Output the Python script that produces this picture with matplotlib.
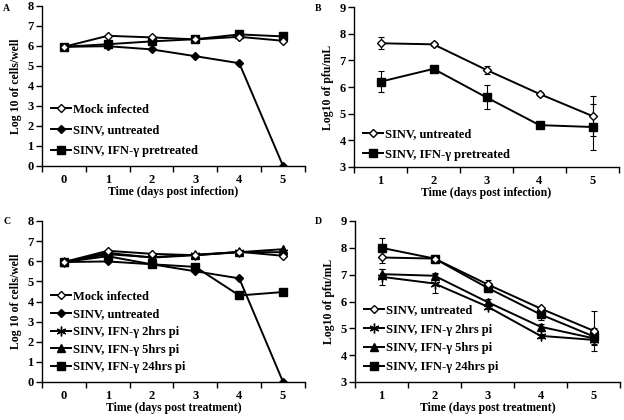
import matplotlib
matplotlib.use("Agg")
import matplotlib.pyplot as plt

plt.rcParams['font.family'] = ['Liberation Serif', 'DejaVu Serif']
plt.rcParams['font.weight'] = 'bold'

# Panel A / C : cell counts
days_cells = [0, 1, 2, 3, 4, 5]
a_mock = [5.96, 6.51, 6.43, 6.33, 6.46, 6.26]
a_untreated = [5.96, 5.99, 5.83, 5.49, 5.14, 0.0]
a_pretreated = [5.96, 6.09, 6.23, 6.34, 6.58, 6.48]

c_mock = [5.96, 6.52, 6.37, 6.30, 6.47, 6.27]
c_untreated = [5.96, 5.99, 5.85, 5.50, 5.15, 0.0]
c_2hrs = [5.96, 6.35, 6.20, 6.33, 6.45, 6.45]
c_5hrs = [5.96, 6.42, 6.18, 6.30, 6.45, 6.60]
c_24hrs = [5.96, 6.25, 5.85, 5.72, 4.30, 4.47]

# Panel B / D : virus titres
days_virus = [1, 2, 3, 4, 5]
b_untreated = [7.64, 7.60, 6.64, 5.74, 4.91]
b_untreated_err = [0.22, 0.07, 0.15, 0.07, 0.75]
b_pretreated = [6.20, 6.68, 5.61, 4.57, 4.50]
b_pretreated_err = [0.40, 0.05, 0.45, 0.05, 0.85]

d_untreated = [7.64, 7.60, 6.64, 5.74, 4.91]
d_untreated_err = [0.22, 0.07, 0.15, 0.07, 0.75]
d_2hrs = [6.92, 6.67, 5.81, 4.72, 4.57]
d_2hrs_err = [0.30, 0.35, 0.10, 0.08, 0.20]
d_5hrs = [7.02, 6.96, 5.98, 5.06, 4.63]
d_5hrs_err = [0.20, 0.10, 0.10, 0.10, 0.15]
d_24hrs = [8.00, 7.60, 6.51, 5.52, 4.70]
d_24hrs_err = [0.35, 0.15, 0.15, 0.20, 0.30]

lbl_mock = "Mock infected"
lbl_untr = "SINV, untreated"
lbl_pre = "SINV, IFN-\u03b3 pretreated"
lbl_2 = "SINV, IFN-\u03b3 2hrs pi"
lbl_5 = "SINV, IFN-\u03b3 5hrs pi"
lbl_24 = "SINV, IFN-\u03b3 24hrs pi"

W, H = 624, 420
fig = plt.figure(figsize=(W / 100, H / 100), dpi=100)

def rect(l, t, r, b):
    return [l / W, 1 - b / H, (r - l) / W, (b - t) / H]

axA = fig.add_axes(rect(42, 6, 305, 166))
axB = fig.add_axes(rect(354, 7, 619, 167))
axC = fig.add_axes(rect(42, 221, 305, 382))
axD = fig.add_axes(rect(355, 221, 620, 382))

lw = 1.4
sty_mock = dict(marker='D', ms=4.5, mfc='white', mec='black', mew=1.0, color='black', lw=lw)
sty_untr = dict(marker='D', ms=4.5, mfc='black', mec='black', color='black', lw=lw)
sty_sq = dict(marker='s', ms=6, mfc='black', mec='black', color='black', lw=lw)
sty_ast = dict(marker=(6, 2, 0), ms=7, mec='black', mew=1.0, color='black', lw=lw)
sty_tri = dict(marker='^', ms=5.5, mfc='black', mec='black', color='black', lw=lw)

fs_tick = 9
fs_lab = 8.5
fs_leg = 9

def style_axis(ax, xlo, xhi, ylo, yhi, xt, xlabel, ylabel):
    ax.set_xlim(xlo, xhi)
    ax.set_ylim(ylo, yhi)
    for s in ['top', 'right']:
        ax.spines[s].set_visible(False)
    for s in ['left', 'bottom']:
        ax.spines[s].set_linewidth(1.0)
    ax.set_xticks(xt)
    ax.set_xticks([x + 0.5 for x in [xt[0] - 1] + list(xt)], minor=True)
    ax.tick_params(axis='x', which='major', length=0, labelsize=fs_tick, pad=6)
    ax.tick_params(axis='x', which='minor', length=4, direction='out', width=1)
    ax.tick_params(axis='y', length=4, direction='out', width=1, labelsize=fs_tick, pad=2)
    ax.set_yticks(range(ylo, yhi + 1))
    ax.set_xlabel(xlabel, fontsize=fs_lab, fontweight='bold', labelpad=0)
    ax.set_ylabel(ylabel, fontsize=fs_lab, fontweight='bold', labelpad=4)
    for t in ax.get_xticklabels() + ax.get_yticklabels():
        t.set_fontweight('bold')

leg_kw = dict(loc='lower left', frameon=False, fontsize=fs_leg,
              handlelength=1.6, handletextpad=0.2, borderaxespad=0.3)

# Panel A
axA.plot(days_cells, a_mock, label=lbl_mock, zorder=3, **sty_mock)
axA.plot(days_cells, a_untreated, label=lbl_untr, zorder=2, **sty_untr)
axA.plot(days_cells, a_pretreated, label=lbl_pre, zorder=2, **sty_sq)
style_axis(axA, -0.5, 5.5, 0, 8, days_cells, "Time (days post infection)", "Log 10 of cells/well")
axA.legend(bbox_to_anchor=(0.0, 0.0), labelspacing=0.7, **leg_kw)

# Panel B
eb = dict(fmt='none', capsize=2, elinewidth=0.8, capthick=0.8, ecolor='black', zorder=1)
axB.errorbar(days_virus, b_untreated, yerr=b_untreated_err, **eb)
axB.errorbar(days_virus, b_pretreated, yerr=b_pretreated_err, **eb)
axB.plot(days_virus, b_untreated, label=lbl_untr, zorder=3, **sty_mock)
axB.plot(days_virus, b_pretreated, label=lbl_pre, zorder=2, **sty_sq)
style_axis(axB, 0.5, 5.5, 3, 9, days_virus, "Time (days post infection)", "Log10 of pfu/mL")
axB.legend(bbox_to_anchor=(0.0, -0.015), labelspacing=0.7, **leg_kw)

# Panel C
axC.plot(days_cells, c_mock, label=lbl_mock, zorder=3, **sty_mock)
axC.plot(days_cells, c_untreated, label=lbl_untr, zorder=2, **sty_untr)
axC.plot(days_cells, c_2hrs, label=lbl_2, zorder=2, **sty_ast)
axC.plot(days_cells, c_5hrs, label=lbl_5, zorder=2, **sty_tri)
axC.plot(days_cells, c_24hrs, label=lbl_24, zorder=2, **sty_sq)
style_axis(axC, -0.5, 5.5, 0, 8, days_cells, "Time (days post treatment)", "Log 10 of cells/well")
axC.legend(bbox_to_anchor=(0.0, 0.0), labelspacing=0.45, **leg_kw)

# Panel D
axD.errorbar(days_virus, d_untreated, yerr=d_untreated_err, **eb)
axD.errorbar(days_virus, d_2hrs, yerr=d_2hrs_err, **eb)
axD.errorbar(days_virus, d_5hrs, yerr=d_5hrs_err, **eb)
axD.errorbar(days_virus, d_24hrs, yerr=d_24hrs_err, **eb)
axD.plot(days_virus, d_untreated, label=lbl_untr, zorder=3, **sty_mock)
axD.plot(days_virus, d_2hrs, label=lbl_2, zorder=2, **sty_ast)
axD.plot(days_virus, d_5hrs, label=lbl_5, zorder=2, **sty_tri)
axD.plot(days_virus, d_24hrs, label=lbl_24, zorder=2, **sty_sq)
style_axis(axD, 0.5, 5.5, 3, 9, days_virus, "Time (days post treatment)", "Log10 of pfu/mL")
axD.legend(bbox_to_anchor=(0.0, 0.0), labelspacing=0.55, **leg_kw)

for letter, (x, y) in zip("ABCD", [(3, 4), (315, 4), (3, 217), (315, 217)]):
    fig.text(x / W, 1 - y / H, letter, fontsize=7, fontweight='bold', va='top', ha='left')

fig.savefig("out.png", dpi=100, facecolor='white')
